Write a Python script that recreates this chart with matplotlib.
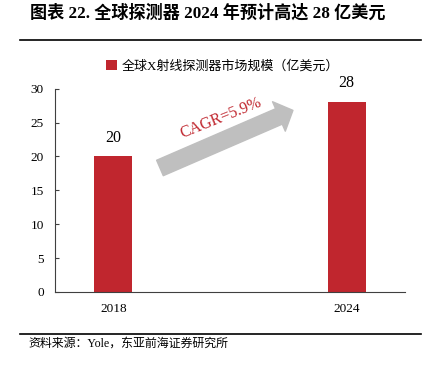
import matplotlib.pyplot as plt

plt.rcParams['font.family'] = ['Liberation Serif', 'Noto Sans CJK SC']

years = ['2018', '2024']
market = [20, 28]
y_ticks = [0, 5, 10, 15, 20, 25, 30]
series_name = '全球X射线探测器市场规模（亿美元）'
title = '图表 22. 全球探测器 2024 年预计高达 28 亿美元'
source = '资料来源：Yole，东亚前海证券研究所'
cagr = 'CAGR=5.9%'

bar_color = '#C0262E'

fig = plt.figure(figsize=(4.32, 3.66), dpi=100)
ax = fig.add_axes([0.1273, 0.2022, 0.81, 0.5555])

x = list(range(len(years)))
ax.bar(x, market, width=0.163, color=bar_color, label=series_name)
for i, v in zip(x, market):
    ax.text(i, v + 1.6, str(v), ha='center', va='bottom', fontsize=11.5)

ax.set_xlim(-0.25, 1.25)
ax.set_ylim(0, 30)
ax.set_xticks(x)
ax.set_xticklabels(years, fontsize=9.5)
ax.set_yticks(y_ticks)
ax.tick_params(axis='y', direction='in', length=3, labelsize=9.5, pad=8, color='#404040')
ax.tick_params(axis='x', length=0, pad=8)
for s in ['top', 'right']:
    ax.spines[s].set_visible(False)
for s in ['left', 'bottom']:
    ax.spines[s].set_color('#404040')

# growth arrow
ax.annotate('', xy=(0.77, 26.8), xytext=(0.2, 18.3),
            arrowprops=dict(arrowstyle='simple,head_length=1.0,head_width=2.1,tail_width=1.1',
                            color='#BFBFBF', mutation_scale=11, shrinkA=0, shrinkB=0))
ax.text(0.46, 25.7, cagr, color=bar_color, fontsize=11.5, rotation=22,
        ha='center', va='center', rotation_mode='anchor')

ax.legend(loc='upper center', bbox_to_anchor=(0.479, 1.2), frameon=False,
          fontsize=9.4, handlelength=0.8, handleheight=0.8, handletextpad=0.4)

fig.text(0.07, 0.965, title, fontsize=12.3, fontweight='bold', va='center')
fig.add_artist(plt.Line2D([0.046, 0.975], [0.892, 0.892], color='black', lw=1.2))
fig.add_artist(plt.Line2D([0.046, 0.975], [0.087, 0.087], color='black', lw=1.2))
fig.text(0.065, 0.06, source, fontsize=8.6, va='center')

fig.savefig('out.png', dpi=100)
